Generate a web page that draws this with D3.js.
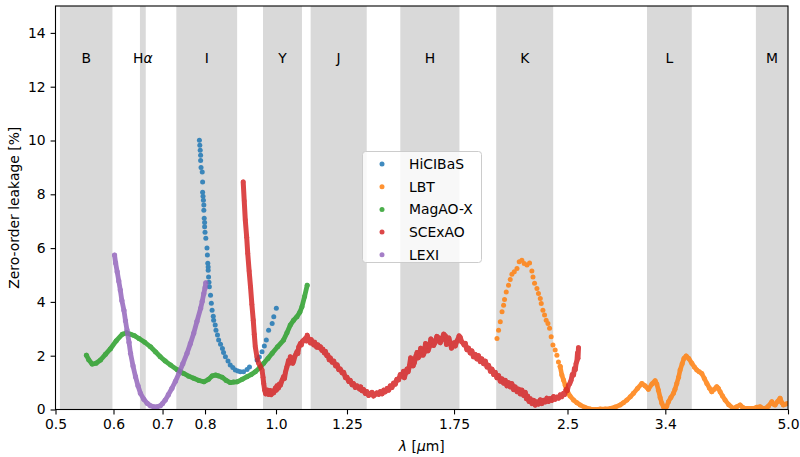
<!DOCTYPE html>
<html><head><meta charset="utf-8">
<script src="https://cdn.jsdelivr.net/npm/d3@7"></script>
<style>body{margin:0;background:#fff}svg{display:block;font-family:"DejaVu Sans",sans-serif}</style>
</head><body>
<svg id="c" width="800" height="457"></svg>
<script>
// ---- data (λ in µm, leakage in %) ----
const bands = [
  {name:"B", lo:0.507, hi:0.598},
  {name:"Hα", lo:0.652, hi:0.664},
  {name:"I", lo:0.731, hi:0.885},
  {name:"Y", lo:0.960, hi:1.085},
  {name:"J", lo:1.115, hi:1.330},
  {name:"H", lo:1.478, hi:1.780},
  {name:"K", lo:1.998, hi:2.390},
  {name:"L", lo:3.210, hi:3.695},
  {name:"M", lo:4.520, hi:5.000}
];
const xTicks = [0.5,0.6,0.7,0.8,1.0,1.25,1.75,2.5,3.4,5.0];
const xTickLabels = ["0.5","0.6","0.7","0.8","1.0","1.25","1.75","2.5","3.4","5.0"];
const yTicks = [0,2,4,6,8,10,12,14];

const hicibas = [[0.786,10.01],[0.787,9.82],[0.788,9.64],[0.789,9.45],[0.789,9.26],[0.790,9.00],[0.793,8.83],[0.794,8.46],[0.794,8.08],[0.795,7.93],[0.796,7.78],[0.797,7.60],[0.797,7.41],[0.798,7.11],[0.799,6.95],[0.799,6.79],[0.800,6.59],[0.802,6.37],[0.805,6.00],[0.806,5.74],[0.807,5.44],[0.808,5.30],[0.808,5.18],[0.809,4.93],[0.810,4.73],[0.811,4.56],[0.814,4.25],[0.816,3.95],[0.818,3.69],[0.821,3.47],[0.822,3.32],[0.826,3.14],[0.828,2.95],[0.832,2.77],[0.835,2.58],[0.840,2.43],[0.845,2.27],[0.848,2.12],[0.853,1.96],[0.860,1.80],[0.866,1.65],[0.873,1.56],[0.880,1.47],[0.887,1.43],[0.894,1.40],[0.903,1.40],[0.913,1.49],[0.920,1.58],[0.942,1.84],[0.949,1.95],[0.957,2.15],[0.964,2.36],[0.970,2.58],[0.977,2.95],[0.988,3.20],[0.993,3.45],[1.001,3.76]];

const lbtPeak = [[2.003,2.64],[2.013,2.95],[2.024,3.26],[2.035,3.63],[2.045,3.88],[2.051,4.09],[2.062,4.37],[2.077,4.62],[2.088,4.83],[2.099,5.03],[2.115,5.12],[2.133,5.24],[2.148,5.49],[2.166,5.55],[2.182,5.43],[2.201,5.37],[2.219,5.45],[2.235,5.15],[2.243,4.93],[2.254,4.69],[2.271,4.50],[2.282,4.31],[2.295,4.13],[2.302,3.94],[2.314,3.69],[2.326,3.51],[2.338,3.32],[2.351,3.20],[2.363,3.02],[2.375,2.70],[2.388,2.40],[2.405,2.21],[2.418,2.02],[2.430,1.77],[2.443,1.60]];
const lbtTail = [[2.443,1.60],[2.456,1.28],[2.469,1.10],[2.482,0.90],[2.495,0.72],[2.520,0.50],[2.548,0.35],[2.575,0.25],[2.602,0.17],[2.640,0.08],[2.685,0.02],[2.730,0.00],[2.771,0.02],[2.815,0.02],[2.859,0.04],[2.905,0.09],[2.950,0.17],[2.980,0.25],[3.013,0.35],[3.045,0.47],[3.076,0.60],[3.115,0.78],[3.158,0.97],[3.190,0.88],[3.224,0.75],[3.260,0.95],[3.293,1.07],[3.310,0.95],[3.327,0.72],[3.345,0.45],[3.363,0.23],[3.380,0.10],[3.398,0.04],[3.415,0.12],[3.434,0.29],[3.460,0.45],[3.488,0.60],[3.505,0.75],[3.525,0.97],[3.545,1.20],[3.562,1.47],[3.585,1.70],[3.605,1.90],[3.630,1.99],[3.660,1.90],[3.696,1.72],[3.725,1.58],[3.754,1.47],[3.783,1.40],[3.813,1.34],[3.844,1.15],[3.874,0.97],[3.905,0.80],[3.935,0.66],[3.965,0.75],[3.997,0.85],[4.018,0.78],[4.039,0.66],[4.070,0.50],[4.103,0.35],[4.150,0.18],[4.211,0.04],[4.255,0.10],[4.301,0.17],[4.335,0.08],[4.369,0.04],[4.430,0.04],[4.485,0.04],[4.530,0.08],[4.580,0.10],[4.615,0.05],[4.653,0.04],[4.700,0.12],[4.752,0.29],[4.775,0.20],[4.801,0.17],[4.840,0.30],[4.877,0.42],[4.905,0.25],[4.928,0.17],[4.965,0.20],[5.006,0.23]];

const magaox = [[0.551,2.02],[0.555,1.85],[0.561,1.69],[0.568,1.72],[0.576,1.84],[0.585,2.05],[0.594,2.25],[0.605,2.55],[0.617,2.80],[0.625,2.85],[0.633,2.80],[0.641,2.74],[0.650,2.64],[0.662,2.50],[0.674,2.33],[0.685,2.14],[0.695,1.96],[0.706,1.80],[0.718,1.65],[0.733,1.48],[0.748,1.34],[0.760,1.24],[0.772,1.16],[0.785,1.08],[0.797,1.03],[0.809,1.12],[0.818,1.25],[0.827,1.28],[0.835,1.25],[0.844,1.20],[0.855,1.08],[0.866,1.00],[0.875,1.02],[0.885,1.03],[0.899,1.12],[0.913,1.22],[0.925,1.30],[0.937,1.40],[0.950,1.55],[0.962,1.72],[0.975,1.90],[0.988,2.09],[1.005,2.33],[1.024,2.58],[1.035,2.85],[1.046,3.14],[1.057,3.32],[1.068,3.45],[1.078,3.62],[1.085,3.82],[1.094,4.20],[1.103,4.62]];

const scexao = [[0.902,8.46],[0.905,7.75],[0.908,7.04],[0.912,6.40],[0.915,5.80],[0.919,5.15],[0.923,4.56],[0.927,3.90],[0.931,3.32],[0.934,2.80],[0.937,2.33],[0.942,1.95],[0.947,1.72],[0.952,1.60],[0.957,1.47],[0.960,1.20],[0.962,0.97],[0.965,0.72],[0.968,0.58],[0.970,0.66],[0.974,0.72],[0.977,0.56],[0.980,0.68],[0.982,0.70],[0.985,0.55],[0.987,0.60],[0.990,0.68],[0.993,0.62],[0.998,0.80],[1.001,0.72],[1.003,0.88],[1.008,0.80],[1.011,0.95],[1.014,0.90],[1.019,1.08],[1.024,1.22],[1.027,1.15],[1.030,1.38],[1.035,1.59],[1.040,1.82],[1.043,1.72],[1.046,1.96],[1.051,1.86],[1.054,1.72],[1.057,1.80],[1.062,2.00],[1.068,2.15],[1.071,2.08],[1.074,2.32],[1.080,2.46],[1.083,2.40],[1.086,2.52],[1.091,2.58],[1.097,2.64],[1.100,2.55],[1.103,2.76],[1.106,2.66],[1.108,2.58],[1.114,2.48],[1.117,2.60],[1.120,2.50],[1.126,2.40],[1.129,2.50],[1.132,2.42],[1.136,2.32],[1.141,2.40],[1.145,2.30],[1.150,2.33],[1.155,2.20],[1.159,2.24],[1.164,2.10],[1.168,2.16],[1.173,2.00],[1.177,2.02],[1.182,1.85],[1.186,1.92],[1.193,1.76],[1.199,1.80],[1.206,1.62],[1.212,1.66],[1.218,1.48],[1.224,1.50],[1.231,1.36],[1.237,1.38],[1.244,1.18],[1.250,1.20],[1.257,1.04],[1.263,1.08],[1.270,0.92],[1.276,0.96],[1.283,0.82],[1.290,0.88],[1.300,0.76],[1.305,0.84],[1.310,0.70],[1.317,0.74],[1.324,0.60],[1.331,0.66],[1.338,0.52],[1.345,0.58],[1.352,0.64],[1.359,0.50],[1.366,0.56],[1.373,0.62],[1.381,0.56],[1.388,0.66],[1.396,0.58],[1.403,0.72],[1.410,0.66],[1.418,0.78],[1.425,0.72],[1.432,0.88],[1.440,0.82],[1.447,0.98],[1.455,0.94],[1.462,1.12],[1.470,1.10],[1.478,1.30],[1.486,1.24],[1.493,1.42],[1.497,1.18],[1.503,1.35],[1.509,1.50],[1.515,1.40],[1.521,1.62],[1.527,1.92],[1.533,1.80],[1.539,1.62],[1.545,1.74],[1.552,1.98],[1.558,2.12],[1.564,1.92],[1.570,2.00],[1.576,2.28],[1.582,2.18],[1.588,2.02],[1.594,2.12],[1.600,2.45],[1.607,2.36],[1.613,2.18],[1.620,2.34],[1.627,2.62],[1.633,2.55],[1.641,2.38],[1.650,2.50],[1.658,2.72],[1.667,2.66],[1.676,2.48],[1.685,2.62],[1.694,2.80],[1.703,2.74],[1.709,2.42],[1.716,2.50],[1.722,2.66],[1.729,2.48],[1.736,2.28],[1.743,2.38],[1.750,2.48],[1.757,2.36],[1.764,2.52],[1.771,2.60],[1.778,2.74],[1.785,2.68],[1.792,2.52],[1.799,2.48],[1.806,2.40],[1.813,2.46],[1.822,2.22],[1.832,2.28],[1.841,2.10],[1.851,2.18],[1.860,1.96],[1.870,2.05],[1.880,1.88],[1.890,2.00],[1.900,1.78],[1.910,1.88],[1.920,1.70],[1.931,1.80],[1.941,1.58],[1.951,1.64],[1.962,1.42],[1.972,1.50],[1.982,1.30],[1.992,1.38],[2.002,1.18],[2.013,1.26],[2.024,1.05],[2.035,1.14],[2.045,0.98],[2.056,1.08],[2.066,0.88],[2.077,1.00],[2.088,0.84],[2.099,0.96],[2.110,0.74],[2.121,0.84],[2.133,0.66],[2.144,0.76],[2.155,0.58],[2.166,0.72],[2.178,0.52],[2.189,0.64],[2.197,0.40],[2.206,0.50],[2.215,0.30],[2.224,0.40],[2.236,0.22],[2.247,0.34],[2.259,0.16],[2.271,0.28],[2.283,0.20],[2.295,0.36],[2.307,0.22],[2.319,0.34],[2.331,0.28],[2.343,0.42],[2.355,0.30],[2.368,0.40],[2.380,0.34],[2.393,0.48],[2.405,0.38],[2.418,0.46],[2.431,0.42],[2.444,0.54],[2.456,0.48],[2.469,0.60],[2.478,0.56],[2.488,0.74],[2.498,0.70],[2.508,0.90],[2.518,0.96],[2.528,1.08],[2.538,1.30],[2.548,1.28],[2.555,1.52],[2.562,1.48],[2.568,1.70],[2.575,1.80],[2.580,2.10],[2.584,1.90],[2.588,2.30]];

const lexi = [[0.602,5.74],[0.604,5.45],[0.607,5.12],[0.610,4.78],[0.613,4.44],[0.616,4.05],[0.620,3.69],[0.623,3.30],[0.626,2.95],[0.630,2.50],[0.633,2.09],[0.638,1.62],[0.643,1.22],[0.648,0.88],[0.653,0.60],[0.660,0.38],[0.667,0.23],[0.674,0.14],[0.681,0.10],[0.688,0.10],[0.695,0.14],[0.700,0.22],[0.706,0.35],[0.713,0.55],[0.721,0.79],[0.729,1.05],[0.737,1.34],[0.746,1.70],[0.756,2.09],[0.764,2.45],[0.772,2.83],[0.780,3.28],[0.789,3.76],[0.793,4.02],[0.797,4.31],[0.800,4.52],[0.802,4.71]];

const seriesNames = ["HiCIBaS","LBT","MagAO-X","SCExAO","LEXI"];
const seriesColors = ["#1f77b4","#ff7f0e","#2ca02c","#d62728","#9467bd"];

// ---- layout ----
const W=800,H=457, L=55.5, R=788, T=6, B=409.5;
const FS=13.9;
const svg=d3.select("#c");
const x=d3.scaleLog().domain([0.5,5.0]).range([L,R]);
const y=d3.scaleLinear().domain([0,15]).range([B,T]);

svg.append("defs").append("clipPath").attr("id","clip")
  .append("rect").attr("x",L).attr("y",T).attr("width",R-L).attr("height",B-T);

// bands
const gB=svg.append("g").attr("clip-path","url(#clip)");
gB.selectAll("rect").data(bands).join("rect")
  .attr("x",d=>x(d.lo)).attr("width",d=>x(d.hi)-x(d.lo))
  .attr("y",T).attr("height",B-T).attr("fill","#d9d9d9");
const lab=svg.append("g").attr("font-size",FS).attr("fill","#000");
bands.forEach(d=>{
  const cx=x(Math.sqrt(d.lo*d.hi));
  const t=lab.append("text").attr("x",cx).attr("y",63).attr("text-anchor","middle");
  if(d.name==="Hα"){ t.append("tspan").text("H"); t.append("tspan").attr("font-style","italic").text("α"); }
  else t.text(d.name);
});

// series
const gS=svg.append("g").attr("clip-path","url(#clip)");
const line=d3.line().x(d=>x(d[0])).y(d=>y(d[1]));
function dots(g,data,color,r){
  g.selectAll(null).data(data).join("circle").attr("cx",d=>x(d[0])).attr("cy",d=>y(d[1])).attr("r",r).attr("fill",color);
}
function path(g,data,color,w){
  g.append("path").attr("d",line(data)).attr("fill","none").attr("stroke",color)
   .attr("stroke-width",w).attr("stroke-linejoin","round").attr("stroke-linecap","round");
}
// HiCIBaS
let g=gS.append("g").attr("opacity",0.85); dots(g,hicibas,seriesColors[0],2.5);
// LBT
g=gS.append("g").attr("opacity",0.85); dots(g,lbtPeak,seriesColors[1],2.5); path(g,lbtTail,seriesColors[1],4.6); dots(g,lbtTail,seriesColors[1],2.5);
// MagAO-X
g=gS.append("g").attr("opacity",0.85); path(g,magaox,seriesColors[2],4.8); dots(g,magaox,seriesColors[2],2.5);
// SCExAO
g=gS.append("g").attr("opacity",0.85); path(g,scexao,seriesColors[3],5.0); dots(g,scexao,seriesColors[3],2.4);
// LEXI
g=gS.append("g").attr("opacity",0.85); path(g,lexi,seriesColors[4],4.8); dots(g,lexi,seriesColors[4],2.6);

// axes
const xa=svg.append("g").attr("transform",`translate(0,${B})`)
  .call(d3.axisBottom(x).tickValues(xTicks).tickFormat((d,i)=>xTickLabels[i]).tickSize(4.9).tickPadding(4.9));
const ya=svg.append("g").attr("transform",`translate(${L},0)`)
  .call(d3.axisLeft(y).tickValues(yTicks).tickFormat(d3.format("d")).tickSize(4.9).tickPadding(4.9));
[xa,ya].forEach(a=>{
  a.select(".domain").remove();
  a.selectAll("text").attr("font-size",FS).attr("font-family","DejaVu Sans").attr("fill","#000");
  a.selectAll("line").attr("stroke","#000").attr("stroke-width",1.1);
});
svg.append("rect").attr("x",L).attr("y",T).attr("width",R-L).attr("height",B-T)
  .attr("fill","none").attr("stroke","#000").attr("stroke-width",1.1);

// axis labels
const xl=svg.append("text").attr("x",(L+R)/2).attr("y",451).attr("text-anchor","middle").attr("font-size",FS);
xl.append("tspan").attr("font-style","italic").text("λ");
xl.append("tspan").text(" [");
xl.append("tspan").attr("font-style","italic").text("μ");
xl.append("tspan").text("m]");
svg.append("text").attr("transform",`translate(19,${(T+B)/2}) rotate(-90)`).attr("text-anchor","middle")
  .attr("font-size",FS).text("Zero-order leakage [%]");

// legend
const lg=svg.append("g");
lg.append("rect").attr("x",362.5).attr("y",151.5).attr("width",119).attr("height",111).attr("rx",3)
  .attr("fill","#fff").attr("fill-opacity",0.8).attr("stroke","#cccccc").attr("stroke-width",1);
seriesNames.forEach((n,i)=>{
  const yy=164+i*22.7;
  lg.append("circle").attr("cx",382).attr("cy",yy).attr("r",2.5).attr("fill",seriesColors[i]).attr("opacity",0.85);
  lg.append("text").attr("x",409).attr("y",yy+5).attr("font-size",FS).text(n);
});
</script>
</body></html>
